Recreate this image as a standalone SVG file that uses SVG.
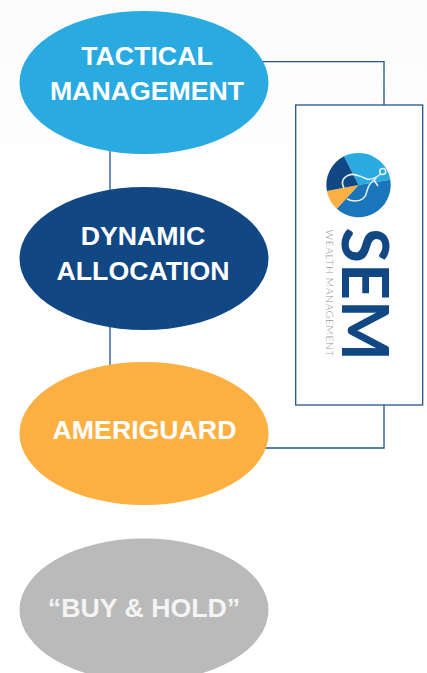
<svg xmlns="http://www.w3.org/2000/svg" width="427" height="673" viewBox="0 0 427 673">
<style>
.lbl{font-family:"Liberation Sans",Arial,sans-serif;font-weight:700;font-size:26.7px;fill:#fff;text-anchor:middle}
.conn{fill:none;stroke:#235490;stroke-width:1.3}
</style>
<defs><linearGradient id="bg" x1="0" y1="0" x2="0" y2="1"><stop offset="0" stop-color="#fbfbfb"/><stop offset="1" stop-color="#fff"/></linearGradient></defs>
<rect width="427" height="673" fill="#fff"/>
<rect width="427" height="190" fill="url(#bg)"/>
<g id="connectors">
<path class="conn" d="M110 150V190M110 325V366M262 61.700H384V105M384 405V448H262"/>
</g>
<g id="node-tactical"><ellipse cx="144" cy="82.500" rx="124.500" ry="71.500" fill="#29aae1"/>
<text class="lbl" x="147" y="65">TACTICAL</text><text class="lbl" x="147" y="99.500">MANAGEMENT</text></g>
<g id="node-dynamic"><ellipse cx="144" cy="258.500" rx="124.500" ry="71.500" fill="#114884"/>
<text class="lbl" x="143" y="245">DYNAMIC</text><text class="lbl" x="143" y="280">ALLOCATION</text></g>
<g id="node-ameriguard"><ellipse cx="144" cy="433.500" rx="124.500" ry="71.500" fill="#fdb042"/>
<text class="lbl" x="144.500" y="439">AMERIGUARD</text></g>
<g id="node-buyhold"><ellipse cx="144" cy="610" rx="124.500" ry="71.500" fill="#bababa"/>
<text class="lbl" x="144" y="617" style="fill:#f4f4f4">“BUY &amp; HOLD”</text></g>
<g id="node-sem">
<rect x="295.700" y="105" width="127" height="300" fill="#fff" stroke="#235490" stroke-width="1.300"/>
<path d="M358.500 185L344 156.300A32.300 32.300 0 0 1 390.300 179.800Z" fill="#29aae1"/>
<path d="M358.500 185L390.300 179.800A32.300 32.300 0 0 1 336.700 208.800Z" fill="#1a75bb"/>
<path d="M358.500 185L336.700 208.800A32.300 32.300 0 0 1 326.900 191Z" fill="#fdb042"/>
<path d="M358.500 185L326.900 191A32.300 32.300 0 0 1 344 156.300Z" fill="#114884"/>
<g fill="none" stroke="#eef1f5" stroke-width="1.500">
<circle cx="382.700" cy="171.600" r="3"/>
<path d="M380.500 174C376 178 372 180 367 179C360 176 354 173 349 175C342 178 341 183 344 188"/>
<path d="M376.500 178C372 181 368 186 367 191C366 197 362 201 355 201C351 201 349 200 347 199"/>
<path d="M374 180L378 186"/>
</g>
<text transform="translate(342 227.500) rotate(90)" style="font-family:Lato,'Liberation Sans',sans-serif;font-weight:700;font-size:64.500px;fill:#114884">SEM</text>
<text x="326" y="229.500" transform="rotate(90 326 229.500)" textLength="127" style="font-family:Lato,'Liberation Sans',sans-serif;font-weight:300;font-size:10.400px;fill:#9a9a9a">WEALTH MANAGEMENT</text>
</g>
</svg>
